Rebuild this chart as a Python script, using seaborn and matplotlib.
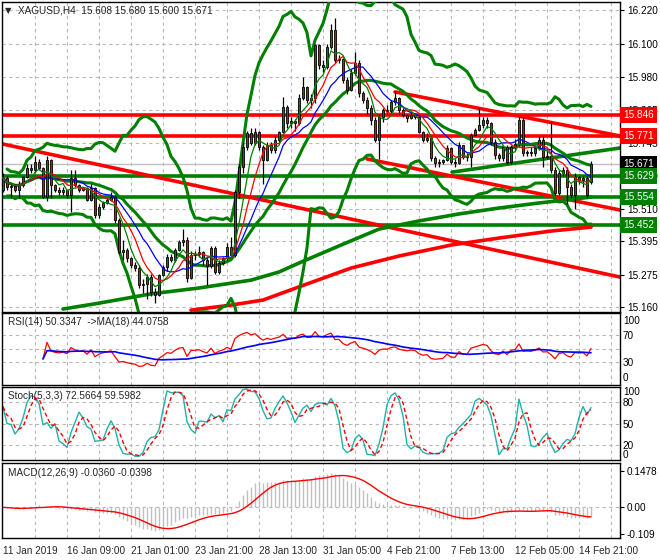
import numpy as np
import pandas as pd
import matplotlib
matplotlib.use("Agg")
import matplotlib.pyplot as plt
import matplotlib.transforms as mtrans
import seaborn as sns

# H4 candles (open = previous close)
closes = [
    15.621, 15.589, 15.592, 15.578, 15.596, 15.625, 15.657, 15.650, 15.678, 15.657, 15.553, 15.685, 15.596, 15.578, 15.571, 15.578,
    15.560, 15.621, 15.596, 15.578, 15.585, 15.543, 15.585, 15.489, 15.518, 15.532, 15.543, 15.553, 15.471, 15.357, 15.364, 15.336,
    15.311, 15.300, 15.240, 15.243, 15.268, 15.215, 15.204, 15.275, 15.304, 15.339, 15.329, 15.364, 15.393, 15.400, 15.264, 15.346,
    15.350, 15.357, 15.329, 15.307, 15.371, 15.286, 15.318, 15.336, 15.375, 15.346, 15.571, 15.660, 15.732, 15.782, 15.746, 15.785,
    15.732, 15.685, 15.739, 15.721, 15.757, 15.785, 15.874, 15.817, 15.824, 15.817, 15.906, 15.945, 15.899, 15.905, 16.095, 16.024,
    16.017, 16.088, 16.149, 16.042, 16.045, 15.970, 15.935, 15.995, 16.031, 15.924, 15.899, 15.871, 15.828, 15.757, 15.839, 15.864,
    15.860, 15.892, 15.906, 15.864, 15.846, 15.835, 15.846, 15.839, 15.785, 15.757, 15.764, 15.692, 15.675, 15.678, 15.685, 15.728,
    15.678, 15.675, 15.739, 15.696, 15.696, 15.774, 15.792, 15.810, 15.828, 15.817, 15.749, 15.703, 15.692, 15.732, 15.678, 15.732,
    15.742, 15.828, 15.710, 15.714, 15.710, 15.728, 15.757, 15.696, 15.699, 15.650, 15.568, 15.639, 15.650, 15.589, 15.561, 15.625,
    15.614, 15.621, 15.561, 15.671]
highs = [
    15.64, 15.63, 15.60, 15.60, 15.61, 15.63, 15.67, 15.67, 15.70, 15.69, 15.66, 15.70, 15.69, 15.60, 15.59, 15.59,
    15.58, 15.65, 15.65, 15.60, 15.59, 15.59, 15.60, 15.59, 15.53, 15.54, 15.55, 15.57, 15.56, 15.48, 15.40, 15.37,
    15.34, 15.32, 15.31, 15.26, 15.28, 15.28, 15.23, 15.28, 15.31, 15.35, 15.35, 15.37, 15.40, 15.44, 15.41, 15.36,
    15.36, 15.38, 15.36, 15.34, 15.38, 15.38, 15.33, 15.34, 15.39, 15.41, 15.58, 15.67, 15.75, 15.79, 15.80, 15.80,
    15.79, 15.74, 15.75, 15.75, 15.77, 15.79, 15.91, 15.88, 15.84, 15.83, 15.92, 15.98, 15.95, 15.92, 16.10, 16.10,
    16.04, 16.10, 16.17, 16.19, 16.06, 16.05, 15.98, 16.01, 16.07, 16.04, 15.93, 15.91, 15.88, 15.84, 15.85, 15.87,
    15.88, 15.90, 15.93, 15.91, 15.87, 15.85, 15.86, 15.85, 15.85, 15.79, 15.78, 15.77, 15.70, 15.69, 15.69, 15.74,
    15.73, 15.69, 15.75, 15.74, 15.71, 15.78, 15.80, 15.87, 15.84, 15.84, 15.82, 15.76, 15.71, 15.74, 15.74, 15.74,
    15.76, 15.84, 15.84, 15.72, 15.73, 15.74, 15.77, 15.77, 15.72, 15.82, 15.66, 15.65, 15.66, 15.66, 15.60, 15.64,
    15.63, 15.63, 15.63, 15.680]
lows = [
    15.57, 15.58, 15.55, 15.57, 15.55, 15.59, 15.62, 15.64, 15.64, 15.65, 15.55, 15.54, 15.55, 15.57, 15.56, 15.56,
    15.55, 15.50, 15.59, 15.57, 15.575, 15.54, 15.54, 15.48, 15.48, 15.51, 15.53, 15.54, 15.46, 15.35, 15.33, 15.32,
    15.30, 15.29, 15.23, 15.21, 15.19, 15.20, 15.175, 15.20, 15.27, 15.29, 15.32, 15.32, 15.36, 15.38, 15.25, 15.26,
    15.33, 15.34, 15.31, 15.24, 15.30, 15.28, 15.28, 15.31, 15.33, 15.34, 15.34, 15.55, 15.64, 15.72, 15.74, 15.74,
    15.72, 15.60, 15.68, 15.71, 15.71, 15.75, 15.78, 15.80, 15.80, 15.79, 15.81, 15.90, 15.89, 15.87, 15.89, 16.01,
    16.00, 16.01, 16.08, 16.03, 16.03, 15.96, 15.92, 15.93, 15.99, 15.91, 15.89, 15.85, 15.81, 15.75, 15.69, 15.82,
    15.85, 15.85, 15.88, 15.85, 15.84, 15.82, 15.83, 15.83, 15.78, 15.75, 15.75, 15.68, 15.66, 15.66, 15.67, 15.68,
    15.67, 15.66, 15.67, 15.69, 15.68, 15.66, 15.77, 15.79, 15.80, 15.80, 15.74, 15.69, 15.68, 15.68, 15.67, 15.67,
    15.72, 15.73, 15.70, 15.70, 15.70, 15.70, 15.72, 15.66, 15.69, 15.64, 15.56, 15.56, 15.63, 15.53, 15.55, 15.51,
    15.60, 15.59, 15.55, 15.600]
first_open = 15.578
last_open = 15.608

date_labels = ["11 Jan 2019", "16 Jan 09:00", "21 Jan 01:00", "23 Jan 21:00", "28 Jan 13:00",
               "31 Jan 05:00", "4 Feb 21:00", "7 Feb 13:00", "12 Feb 05:00", "14 Feb 21:00"]
price_ticks = [16.220, 16.100, 15.980, 15.865, 15.745, 15.630, 15.510, 15.395, 15.275, 15.160]

# long moving averages, read at sample bars
long_green_bars = [15, 24, 37, 49, 62, 69, 74, 84, 94, 104, 114, 124, 134, 147]
long_green_vals = [15.154, 15.175, 15.208, 15.229, 15.257, 15.286, 15.318, 15.379, 15.439,
                   15.468, 15.493, 15.514, 15.532, 15.553]
long_red_bars = [47, 57, 65, 74, 87, 99, 112, 124, 137, 147]
long_red_vals = [15.150, 15.168, 15.186, 15.233, 15.300, 15.343, 15.382, 15.407, 15.432, 15.446]

red_levels = [15.846, 15.771]
green_levels = [15.629, 15.554, 15.452]
current_price = 15.671
# trend lines: bar0, price0, bar1, price1
red_trends = [(0, 15.742, 154.25, 15.268), (91, 15.689, 154.25, 15.507), (98, 15.928, 154.25, 15.771)]
green_trends = [(112.25, 15.642, 154.25, 15.728)]

title_main = "XAGUSD,H4  15.608 15.680 15.600 15.671"
title_rsi = "RSI(14) 50.3347  ->MA(18) 44.0758"
title_sto = "Stoch(5,3,3) 72.5664 59.5982"
title_macd = "MACD(12,26,9) -0.0360 -0.0398"

# ---------------------------------------------------------------
c = pd.Series(closes)
h = pd.Series(highs)
l = pd.Series(lows)
o = pd.Series([first_open] + closes[:-1])
o.iloc[-1] = last_open
h = np.maximum(h, np.maximum(o, c))
l = np.minimum(l, np.minimum(o, c))
idx = np.arange(len(c))

ma_fast = c.rolling(5, min_periods=1).mean()
ma_mid = c.rolling(8, min_periods=1).mean()
ma_slow = c.rolling(13, min_periods=1).mean()
bb_mid = c.rolling(20, min_periods=1).mean()
bb_sd = c.rolling(20, min_periods=2).std(ddof=0)
bb_up = bb_mid + 3 * bb_sd
bb_lo = bb_mid - 3 * bb_sd

d = c.diff()
up = d.clip(lower=0).ewm(alpha=1 / 14, adjust=True, min_periods=10).mean()
dn = (-d.clip(upper=0)).ewm(alpha=1 / 14, adjust=True, min_periods=10).mean()
rsi = 100 - 100 / (1 + up / dn)
rsi_ma = rsi.rolling(18, min_periods=1).mean()

ll = l.rolling(5, min_periods=1).min()
hh = h.rolling(5, min_periods=1).max()
k = (c - ll).rolling(3, min_periods=1).sum() / (hh - ll).rolling(3, min_periods=1).sum() * 100
dline = k.rolling(3, min_periods=1).mean()

macd = c.ewm(span=12, adjust=False).mean() - c.ewm(span=26, adjust=False).mean()
signal = macd.rolling(9, min_periods=1).mean()

sns.set_style("white")
plt.rcParams['font.family'] = ['Liberation Sans', 'DejaVu Sans']
plt.rcParams['font.size'] = 7

GREEN = '#008000'
RED = '#ff0000'
GRID = '#b8b8b8'
FS = 7.2

fig = plt.figure(figsize=(6.6, 5.6), dpi=100)
L, W = 2 / 660, 618 / 660
ax = fig.add_axes([L, 1 - 312 / 560, W, 310 / 560])
ax_rsi = fig.add_axes([L, 1 - 385 / 560, W, 72 / 560])
ax_sto = fig.add_axes([L, 1 - 460 / 560, W, 73 / 560])
ax_macd = fig.add_axes([L, 1 - 538 / 560, W, 75 / 560])
xlim = (-0.25, 154.25)

for a in (ax, ax_rsi, ax_sto, ax_macd):
    a.set_xlim(*xlim)
    for s in a.spines.values():
        s.set_color('black')
        s.set_linewidth(1.0)
    a.yaxis.tick_right()
    a.tick_params(axis='y', direction='out', length=3, width=0.8, pad=2, labelsize=FS, colors='black')
    a.tick_params(axis='x', direction='out', length=3, width=0.8, labelsize=FS)
    for g in range(8, 155, 8):
        a.axvline(g, color=GRID, lw=0.8, ls=(0, (3, 3)), zorder=0)
    a.set_xticks(range(0, 148, 16))
    a.set_xticklabels([])

# main panel
ax.set_ylim(15.1434, 16.2485)
ax.set_yticks(price_ticks)
ax.set_yticklabels([f"{p:.3f}" for p in price_ticks])
for p in price_ticks:
    ax.axhline(p, color=GRID, lw=0.8, ls=(0, (3, 3)), zorder=0)
ax.axhline(current_price, color='#c0c0c0', lw=1.0, zorder=1)

for lv in red_levels:
    ax.axhline(lv, color=RED, lw=2.6, zorder=2)
for lv in green_levels:
    ax.axhline(lv, color=GREEN, lw=2.6, zorder=2)
for x0, y0, x1, y1 in red_trends:
    ax.plot([x0, x1], [y0, y1], color=RED, lw=2.6, zorder=2)
for x0, y0, x1, y1 in green_trends:
    ax.plot([x0, x1], [y0, y1], color=GREEN, lw=2.6, zorder=2)

sns.lineplot(x=long_green_bars, y=long_green_vals, ax=ax, color=GREEN, linewidth=2.6, zorder=2)
sns.lineplot(x=long_red_bars, y=long_red_vals, ax=ax, color=RED, linewidth=2.6, zorder=2)
for ser in (bb_up, bb_mid, bb_lo):
    sns.lineplot(x=idx, y=ser.values, ax=ax, color=GREEN, linewidth=2.2, zorder=3)

bull = (c >= o).values
body_lo = np.minimum(o, c).values
body_h = np.maximum(np.abs(c - o).values, 0.002)
ax.vlines(idx, l.values, h.values, color='black', lw=0.9, zorder=4)
ax.bar(idx, body_h, bottom=body_lo, width=0.7,
       color=np.where(bull, GREEN, RED), edgecolor='black', linewidth=0.6, zorder=5)

sns.lineplot(x=idx, y=ma_slow.values, ax=ax, color='#0000ff', linewidth=0.9, zorder=6)
sns.lineplot(x=idx, y=ma_mid.values, ax=ax, color=RED, linewidth=0.9, zorder=6)
sns.lineplot(x=idx, y=ma_fast.values, ax=ax, color=GREEN, linewidth=0.9, zorder=6)

ax.text(0.004, 0.971, "\u25bc", transform=ax.transAxes, fontsize=6, va='center', ha='left',
        family=['DejaVu Sans'])
ax.text(0.026, 0.971, title_main, transform=ax.transAxes, fontsize=FS, va='center', ha='left')

tr = mtrans.blended_transform_factory(ax.transAxes, ax.transData)
boxes = [(15.846, RED), (15.771, RED), (15.671, 'black'), (15.629, GREEN), (15.554, GREEN), (15.452, GREEN)]
for val, col in boxes:
    ax.text(1.005, val, f"{val:.3f}", transform=tr, color='white', fontsize=FS, va='center', ha='left',
            zorder=20, clip_on=False,
            bbox=dict(boxstyle='square,pad=0.3', fc=col, ec='none'))

# RSI panel
ax_rsi.set_ylim(-4, 102.7)
ax_rsi.set_yticks([92.3, 70, 30, 7.9])
ax_rsi.set_yticklabels(['100', '70', '30', '0'])
ax_rsi.tick_params(axis='y', length=0)
for lv in (70, 50, 30):
    ax_rsi.axhline(lv, color=GRID, lw=0.8, ls=(0, (3, 3)), zorder=0)
sns.lineplot(x=idx, y=rsi.values, ax=ax_rsi, color=RED, linewidth=0.9)
sns.lineplot(x=idx, y=rsi_ma.values, ax=ax_rsi, color='#0000ff', linewidth=1.2)
ax_rsi.text(0.01, 0.87, title_rsi, transform=ax_rsi.transAxes, fontsize=FS, va='center', ha='left')

# Stochastic panel
ax_sto.set_ylim(0, 100)
ax_sto.set_yticks([94, 80, 50, 20, 7.8])
ax_sto.set_yticklabels(['100', '80', '50', '20', '0'])
ax_sto.tick_params(axis='y', length=0)
for lv in (80, 50, 20):
    ax_sto.axhline(lv, color=GRID, lw=0.8, ls=(0, (3, 3)), zorder=0)
sns.lineplot(x=idx, y=k.values, ax=ax_sto, color='#20b2aa', linewidth=1.0)
sns.lineplot(x=idx, y=dline.values, ax=ax_sto, color=RED, linewidth=1.0, linestyle=(0, (3, 2)))
ax_sto.text(0.01, 0.87, title_sto, transform=ax_sto.transAxes, fontsize=FS, va='center', ha='left')

# MACD panel
ax_macd.set_ylim(-0.124, 0.179)
ax_macd.set_yticks([0.1478, 0.0, -0.109])
ax_macd.set_yticklabels(['0.1478', '0.00', '-0.109'])
ax_macd.axhline(0, color=GRID, lw=0.8, ls=(0, (3, 3)), zorder=0)
ax_macd.vlines(idx, 0, macd.values, color='#c0c0c0', lw=1.0)
sns.lineplot(x=idx, y=signal.values, ax=ax_macd, color=RED, linewidth=1.0)
ax_macd.text(0.01, 0.86, title_macd, transform=ax_macd.transAxes, fontsize=FS, va='center', ha='left')
ax_macd.set_xticklabels(date_labels, ha='left')
ax_macd.tick_params(axis='x', pad=3)

for a in (ax, ax_rsi, ax_sto, ax_macd):
    a.set_xlabel('')
    a.set_ylabel('')

fig.savefig("out.png", dpi=100, facecolor='white')
